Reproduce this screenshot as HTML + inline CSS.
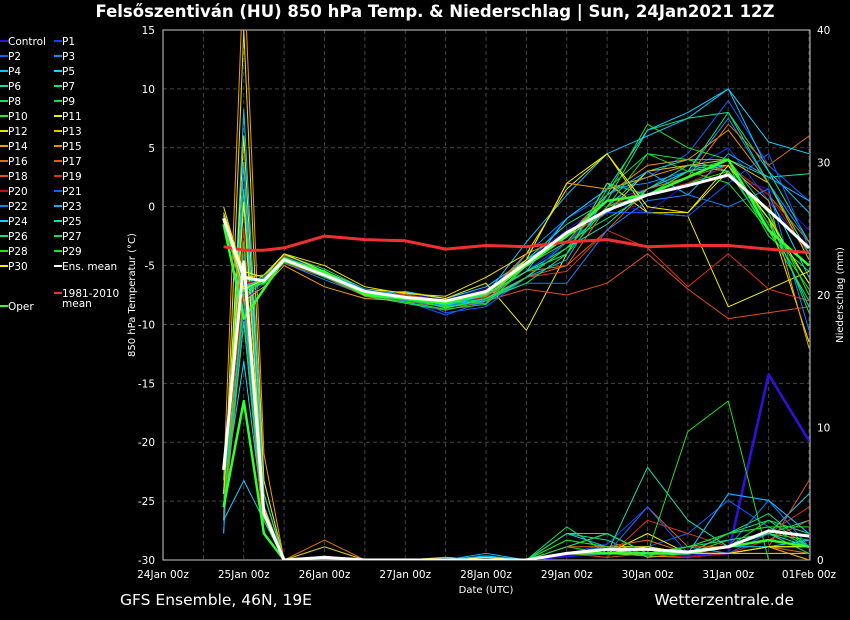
<!DOCTYPE html>
<html><head><meta charset="utf-8">
<style>
html,body{margin:0;padding:0;background:#000;}
svg{display:block;font-family:"DejaVu Sans","Liberation Sans",sans-serif;}
</style></head>
<body>
<svg id="chart" width="850" height="620" viewBox="0 0 850 620">
<rect x="0" y="0" width="850" height="620" fill="#000"/>
<text x="435" y="17" fill="#fff" font-size="16.5" font-weight="bold" text-anchor="middle">Felsőszentiván  (HU)  850 hPa Temp. &amp; Niederschlag | Sun, 24Jan2021 12Z</text>
<g id="grid"></g>
<rect x="163" y="30" width="647" height="530" fill="none" stroke="#ccc" stroke-width="1"/>
<defs><clipPath id="pc"><rect x="163" y="30" width="647" height="530"/></clipPath></defs>
<g id="series" clip-path="url(#pc)"></g>
<g id="axes"></g>
<g id="legend"></g>
<text x="135" y="295" fill="#fff" font-size="10" text-anchor="middle" transform="rotate(-90 135 295)">850 hPa Temperatur (°C)</text>
<text x="843" y="295" fill="#fff" font-size="10" text-anchor="middle" transform="rotate(-90 843 295)">Niederschlag (mm)</text>
<text x="486" y="593" fill="#fff" font-size="10" text-anchor="middle">Date (UTC)</text>
<text x="120" y="605" fill="#fff" font-size="15.5">GFS Ensemble, 46N, 19E</text>
<text x="794" y="605" fill="#fff" font-size="15.5" text-anchor="end">Wetterzentrale.de</text>
</svg>
<script>
const hours=[18,24,30,36,48,60,72,84,96,108,120,132,144,156,168,180,192];
const dayLabels=["24Jan 00z","25Jan 00z","26Jan 00z","27Jan 00z","28Jan 00z","29Jan 00z","30Jan 00z","31Jan 00z","01Feb 00z"];
const tempTicks=[15,10,5,0,-5,-10,-15,-20,-25,-30];
const precipTicks=[0,10,20,30,40];
const memberNames=["Control","P1","P2","P3","P4","P5","P6","P7","P8","P9","P10","P11","P12","P13","P14","P15","P16","P17","P18","P19","P20","P21","P22","P23","P24","P25","P26","P27","P28","P29","P30"];
const memberColors=["#3010e0","#1040ff","#1060ff","#1090ff","#10c0ff","#10d8ff","#10e0b0","#10e090","#10e060","#10e040","#20f010","#f0f000","#f0e000","#f0c000","#f0a000","#f09000","#e07000","#e06000","#e05020","#e03020","#c01010","#1060ff","#1080ff","#10b0ff","#10d0ff","#10e0b0","#10e080","#10e060","#20e020","#20e020","#f0f000"];
const memberTemp=[
[-1,-6.5,-6.2,-4.2,-5.5,-7.0,-7.5,-7.8,-7.0,-4.5,-2.0,0.5,-0.5,2.0,2.5,1.5,-2.0],
[-1,-8,-6.5,-4.8,-6.0,-7.5,-8.0,-8.5,-7.8,-5.5,-3.0,0.5,1.5,3.0,5.0,0.5,-4.0],
[-0.5,-7,-6.0,-4.4,-5.8,-7.2,-8.0,-9.2,-8.0,-5.0,-1.0,1.0,2.5,4.5,9.0,3.5,0.5],
[-1,-6,-6.3,-4.8,-6.2,-7.5,-7.8,-8.5,-8.2,-4.0,-1.0,1.5,2.0,3.0,7.5,2.0,-3.0],
[-1.5,-7,-5.8,-4.0,-5.5,-7.0,-7.5,-8.0,-7.5,-3.0,1.0,4.5,6.0,7.5,10.0,3.0,-0.5],
[-1,-6,-6.5,-4.5,-6.0,-7.4,-7.2,-7.8,-6.8,-4.5,-2.5,-0.5,1.5,3.0,3.5,1.0,-6.0],
[-0.8,-7,-6.2,-4.3,-5.6,-7.3,-7.9,-8.3,-7.6,-5.5,-3.5,0.0,3.0,4.0,4.0,2.5,2.8],
[-1,-6.8,-6.0,-4.6,-5.9,-7.6,-8.2,-8.8,-8.0,-4.5,-1.5,0.5,6.5,7.5,8.0,3.0,-3.0],
[-1.2,-7.5,-6.4,-4.1,-5.3,-7.0,-7.6,-8.6,-7.9,-6.0,-3.0,-1.0,1.0,2.0,3.5,-2.5,-5.5],
[-1,-6.5,-6.6,-4.7,-5.7,-7.3,-8.1,-8.2,-7.4,-5.5,-4.0,1.5,4.5,4.0,3.0,-2.0,-8.0],
[-1,-7.2,-6.2,-4.5,-5.6,-7.1,-7.8,-8.1,-8.0,-5.0,-2.5,0.5,1.0,2.0,3.0,-0.5,-7.5],
[-0.5,-5.5,-6.0,-4.0,-5.5,-7.0,-7.3,-7.8,-6.5,-10.5,-4.0,2.0,-0.5,-0.8,-8.5,-7.0,-5.5],
[0,-6,-5.8,-4.0,-5.0,-6.8,-7.4,-7.6,-6.0,-4.0,1.5,4.5,-0.5,-0.5,3.0,-1.0,-11.5],
[-1,-7,-6.2,-4.4,-5.6,-7.2,-7.8,-8.2,-7.6,-5.0,-2.5,-0.5,3.0,3.5,4.0,2.0,-4.5],
[-0.7,-8,-6.8,-5.0,-6.8,-7.8,-8.0,-8.5,-7.2,-4.5,2.0,1.5,2.5,3.5,3.5,0.5,-12.0],
[-1,-7,-6.4,-4.6,-5.9,-7.4,-7.8,-8.3,-7.5,-4.0,-2.5,1.0,3.5,4.0,6.5,2.0,-4.0],
[-1.3,-7,-6.3,-4.3,-5.7,-7.2,-7.5,-8.0,-7.6,-5.5,-5.0,0.0,1.5,2.5,7.0,3.5,6.0],
[-1,-7,-6.1,-4.6,-5.8,-7.3,-8.0,-8.4,-7.8,-6.0,-5.0,-2.0,1.5,2.5,3.5,1.0,-3.0],
[-1.5,-6.5,-6.5,-4.8,-6.0,-7.6,-7.9,-8.8,-8.0,-7.0,-7.5,-6.5,-4.0,-7.0,-9.5,-9.0,-8.5],
[-1,-7,-6.2,-4.2,-5.8,-7.1,-7.5,-8.1,-7.7,-6.0,-5.5,-2.0,-3.5,-6.8,-4.0,-7.0,-8.0],
[-1,-6.5,-6.3,-4.6,-5.7,-7.5,-8.0,-8.2,-7.3,-5.0,-3.0,0.0,1.0,2.0,3.5,1.0,-4.0],
[-1,-7,-6.0,-4.4,-5.6,-7.0,-7.6,-9.0,-8.5,-6.0,-3.0,-0.5,-0.5,-0.8,2.0,4.5,-3.5],
[-1,-6.8,-6.2,-4.5,-5.9,-7.4,-8.0,-8.4,-7.9,-6.5,-6.5,-2.0,0.5,1.0,0.0,1.5,-10.5],
[-1.1,-7,-6.4,-4.5,-5.8,-7.2,-7.7,-8.1,-8.2,-6.0,-4.5,1.0,3.0,1.0,4.5,2.5,0.5],
[-0.8,-6.8,-6.1,-4.3,-5.5,-7.1,-7.6,-8.4,-7.5,-5.5,-1.0,1.5,6.5,8.0,10.0,5.5,4.5],
[-1,-7,-6.5,-4.4,-5.7,-7.4,-7.7,-8.6,-7.8,-6.0,-3.5,-1.5,1.5,3.5,3.0,-1.0,-8.5],
[-1.2,-7,-6.2,-4.6,-5.8,-7.3,-7.8,-8.2,-7.5,-5.5,-4.0,2.0,1.0,3.0,8.0,2.0,-4.0],
[-1,-7.2,-6.3,-4.5,-6.0,-7.2,-7.9,-8.3,-7.8,-6.5,-4.0,0.0,1.0,3.0,4.0,-0.5,-9.0],
[-1,-7,-6.1,-4.3,-5.6,-7.5,-8.1,-8.7,-8.3,-5.0,-3.0,1.0,7.0,5.0,4.0,-1.5,-6.5],
[-1.3,-6.8,-6.4,-4.7,-5.9,-7.4,-7.9,-8.5,-8.0,-6.0,-3.5,0.0,4.5,3.0,2.0,-2.0,-7.0],
[-1,-7,-6.2,-4.4,-5.7,-7.2,-7.7,-8.1,-7.4,-4.5,2.0,4.5,0.0,-0.5,3.5,-1.0,-6.5]];
const memberPrecip=[
[5,20,4,0,0,0,0,0,0,0,0.3,0.5,0.5,0.3,0.5,14,9],
[6,24,3,0,0,0,0,0,0,0,0.5,1.2,4,1,0.5,1,1],
[4,28,5,0,0.3,0,0,0,0,0,0.5,0.5,1,2,4.5,2.5,1],
[3,18,2,0,0,0,0,0.2,0,0,1,2,0.5,1,0.5,1,1.5],
[2,34,6,0,1,0,0,0.1,0.2,0,2,1,1,0.5,5,4.5,2],
[5,15,3,0,0,0,0,0,0.3,0,0.5,1,1,0.5,1,2,5],
[7,22,4,0,0,0,0,0,0,0,1,2,0.5,0.5,1,2,3],
[5,30,2,0,0,0,0,0,0,0,2,1.5,0.2,0.5,2,3,2],
[4,20,5,0,0,0,0,0,0,0,2.5,0.5,1,0.5,2,3.5,1],
[6,25,3,0,0,0,0,0,0,0,1,0.5,1,0.5,1,3,1],
[5,19,4,0,0,0,0,0,0,0,1.5,1,0.5,0.5,1.5,2,1.5],
[4,32,5,0,0.2,0,0,0,0,0,0.5,0.5,2,0.5,0.5,1,1],
[3,40,6,0,0,0,0,0,0.2,0,0.5,0.5,0.8,0.5,0.5,0.5,0.5],
[5,27,4,0,1,0,0,0.2,0,0,0.5,1,1,0.5,0.5,1,0],
[6,45,8,0,0,0,0,0,0,0,0.5,0.5,0.5,0.5,0.5,1,0],
[4,22,3,0,0,0,0,0,0,0,0.5,0.5,0.3,0.2,0.5,1.5,1],
[3,18,2,0,1.5,0,0,0,0,0,1,1,1.5,0.5,0.5,1,0.5],
[5,24,4,0,0,0,0,0,0,0,0.5,0.5,4,1,1,1.5,3],
[7,20,5,0,0,0,0,0,0,0,0.5,0.2,0.5,0.5,0.5,1,6],
[4,25,3,0,0,0,0,0,0,0,0.5,0.2,3,2,1,2,4],
[6,21,4,0,0,0,0,0,0,0,0.5,0.5,0.5,0.2,0.5,1.5,2],
[5,23,3,0,0,0,0,0,0,0,0.5,0.5,4,0.5,0.5,2,1],
[4,19,3,0,0,0,0,0,0,0,0.5,1,0.5,0.5,1,4.5,1],
[2,30,5,0,0,0,0,0,0.5,0,0.5,0.5,0.5,0.5,5,4.5,2],
[3,6,3,0,0,0,0,0,0.3,0,0.5,0.5,0.5,0.5,1,1,1.5],
[5,28,4,0,0,0,0,0,0,0,0.5,0.5,7,3,1,2,1],
[4,18,3,0,0,0,0,0,0,0,2,2,0.5,1,1.5,2,0.5],
[6,22,5,0,0,0,0,0,0,0,1,2,0.5,1,2,2.5,1],
[5,24,4,0,0,0,0,0,0,0,1.5,1,0.3,1,2,2.5,2.5],
[4,20,3,0,0,0,0,0,0,0,0.5,0.5,0.5,9.7,12,0,0],
[5,27,4,0,0,0,0,0,0,0,0.5,0.5,1,0.5,0.5,1,1]];
const operTemp=[-1.5,-9.5,-7.0,-4.5,-5.5,-7.5,-7.8,-8.2,-7.3,-5.0,-2.5,0.5,1.0,2.5,4.0,-2.0,-5.0];
const operPrecip=[4,12,2,0,0,0,0,0,0,0,0.5,0.5,0.5,0.5,1,1.5,1];
const meanTemp=[-1,-6,-6.3,-4.5,-5.8,-7.2,-7.7,-8.0,-7.2,-4.8,-2.2,-0.3,1.0,1.8,2.7,-0.3,-3.5];
const meanPrecip=[6.8,22.5,3.5,0,0.2,0,0,0,0,0,0.5,0.8,0.8,0.6,1,2.2,1.8];
const climTemp=[-3.4,-3.7,-3.7,-3.5,-2.5,-2.8,-2.9,-3.6,-3.3,-3.4,-3.0,-2.8,-3.4,-3.3,-3.3,-3.6,-3.9];

const NS="http://www.w3.org/2000/svg";
const X0=163,X1=809,Y0=30,Y1=560;
function xs(h){return X0+(h/192)*(X1-X0);}
function yt(t){return Y0+(15-t)/45*(Y1-Y0);}
function yp(p){return Y1-p/40*(Y1-Y0);}
function mk(tag,attrs,parent){const e=document.createElementNS(NS,tag);for(const k in attrs)e.setAttribute(k,attrs[k]);parent.appendChild(e);return e;}
const grid=document.getElementById('grid'),axes=document.getElementById('axes'),ser=document.getElementById('series'),leg=document.getElementById('legend');

for(let h=0;h<=192;h+=12){
  const l=mk('line',{x1:xs(h),x2:xs(h),y1:Y0,y2:Y1,stroke:'#444','stroke-dasharray':'4,3','stroke-width':1},grid);
  
  
}
tempTicks.forEach(t=>{
  const l=mk('line',{x1:X0,x2:X1,y1:yt(t),y2:yt(t),stroke:'#444','stroke-dasharray':'4,3','stroke-width':1},grid);
  
  
  const tx=mk('text',{x:X0-8,y:yt(t)+4,fill:'#fff','font-size':10.5,'text-anchor':'end'},axes);
  tx.textContent=t;
  
  
});
precipTicks.forEach(p=>{
  const tx=mk('text',{x:X1+8,y:yp(p)+4,fill:'#fff','font-size':10.5},axes);
  tx.textContent=p;
  
  
});
dayLabels.forEach((d,i)=>{
  const tx=mk('text',{x:xs(i*24),y:578,fill:'#fff','font-size':10.5,'text-anchor':'middle'},axes);
  tx.textContent=d;
  
  
});

function line(vals,yf,color,w,name){
  const pts=vals.map((v,i)=>xs(hours[i]).toFixed(1)+','+yf(v).toFixed(1)).join(' ');
  const p=mk('polyline',{points:pts,fill:'none',stroke:color,'stroke-width':w,'stroke-linejoin':'round'},ser);
  
  
}
memberPrecip.forEach((v,i)=>line(v,yp,memberColors[i],i===0?2.5:1,'precip-line-'+memberNames[i].toLowerCase()));
memberTemp.forEach((v,i)=>line(v,yt,memberColors[i],1,'temp-line-'+memberNames[i].toLowerCase()));
line(operPrecip,yp,'#30ff30',2.5,'precip-line-oper');
line(operTemp,yt,'#30ff30',2.5,'temp-line-oper');
line(climTemp,yt,'#f03030',3,'climate-mean-line');
line(meanPrecip,yp,'#ffffff',3,'precip-line-ens-mean');
line(meanTemp,yt,'#ffffff',3,'temp-line-ens-mean');

function legItem(x,y,color,label,name){
  const g=mk('g',{},leg);
  
  
  mk('line',{x1:x,x2:x+8,y1:y,y2:y,stroke:color,'stroke-width':2},g);
  const lines=label.split('\n');
  lines.forEach((s,j)=>{const t=mk('text',{x:x+8,y:y+4+j*10,fill:'#fff','font-size':10.5},g);t.textContent=s;});
}
memberNames.forEach((n,i)=>{
  const col=i%2, row=Math.floor(i/2);
  legItem(col?54:0,41+row*15,memberColors[i],n,'legend-entry-'+n.toLowerCase());
});
legItem(54,266,'#ffffff','Ens. mean','legend-entry-ens-mean');
legItem(54,293,'#f03030','1981-2010\nmean','legend-entry-climate-mean');
legItem(0,306,'#30ff30','Oper','legend-entry-oper');
</script>
</body></html>
